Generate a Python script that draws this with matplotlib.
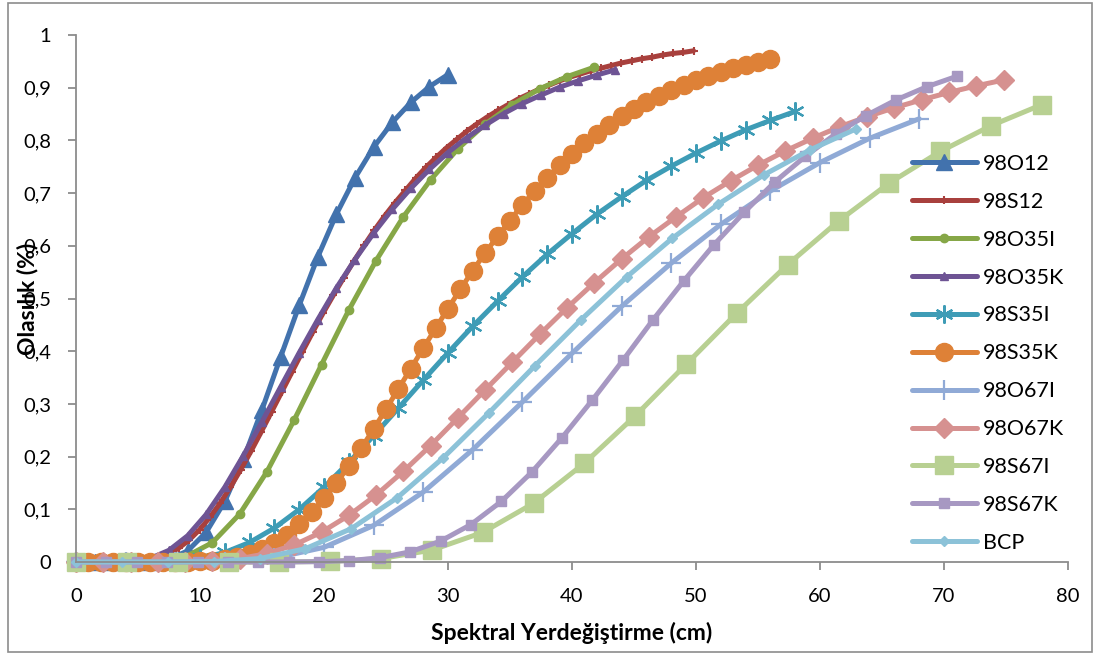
import matplotlib
matplotlib.use("Agg")
import matplotlib.pyplot as plt
from matplotlib.patches import Rectangle

plt.rcParams['font.family'] = ['Lato', 'DejaVu Sans']

# ---- data -------------------------------------------------------------
x_98O12 = [0, 1.5, 3, 4.5, 6, 7.5, 9, 10.5, 12, 13.5, 15, 16.5, 18, 19.5, 21,
           22.5, 24, 25.5, 27, 28.5, 30]
y_98O12 = [0, 0, 0, 0, 0.0007, 0.0053, 0.021, 0.0565, 0.115, 0.195, 0.289,
           0.389, 0.487, 0.579, 0.660, 0.729, 0.787, 0.834, 0.872, 0.902, 0.925]

x_98S12 = [0, 0.83, 1.66, 2.49, 3.32, 4.15, 4.98, 5.81, 6.64, 7.47, 8.30, 9.13,
           9.96, 10.79, 11.62, 12.45, 13.28, 14.11, 14.94, 15.77, 16.60, 17.43,
           18.26, 19.09, 19.92, 20.75, 21.58, 22.41, 23.24, 24.07, 24.90, 25.73,
           26.56, 27.39, 28.22, 29.05, 29.88, 30.71, 31.54, 32.37, 33.20, 34.03,
           34.86, 35.69, 36.52, 37.35, 38.18, 39.01, 39.84, 40.67, 41.50, 42.33,
           43.16, 43.99, 44.82, 45.65, 46.48, 47.31, 48.14, 48.97, 49.80]
y_98S12 = [0, 0, 0, 0, 0.0001, 0.0003, 0.0013, 0.0036, 0.008, 0.0155, 0.0266,
           0.0418, 0.0612, 0.0846, 0.1116, 0.142, 0.175, 0.210, 0.247, 0.285,
           0.323, 0.361, 0.399, 0.436, 0.472, 0.506, 0.539, 0.571, 0.601, 0.630,
           0.657, 0.682, 0.705, 0.728, 0.749, 0.768, 0.786, 0.802, 0.818, 0.832,
           0.845, 0.857, 0.868, 0.879, 0.888, 0.897, 0.905, 0.913, 0.920, 0.926,
           0.932, 0.937, 0.942, 0.947, 0.951, 0.955, 0.958, 0.962, 0.965, 0.967,
           0.970]

x_98O35I = [0, 2.2, 4.4, 6.6, 8.8, 11.0, 13.2, 15.4, 17.6, 19.8, 22.0, 24.2,
            26.4, 28.6, 30.8, 33.0, 35.2, 37.4, 39.6, 41.8]
y_98O35I = [0, 0, 0, 0.0011, 0.0095, 0.0368, 0.091, 0.1715, 0.2697, 0.3745,
            0.478, 0.572, 0.655, 0.7254, 0.784, 0.831, 0.868, 0.898, 0.921, 0.939]

x_98O35K = [0, 1.5, 3, 4.5, 6, 7.5, 9, 10.5, 12, 13.5, 15, 16.5, 18, 19.5, 21,
            22.5, 24, 25.5, 27, 28.5, 30, 31.5, 33, 34.5, 36, 37.5, 39, 40.5,
            42, 43.5]
y_98O35K = [0, 0, 0.0001, 0.0012, 0.0070, 0.0222, 0.0498, 0.0903, 0.142, 0.202,
            0.266, 0.332, 0.397, 0.460, 0.520, 0.574, 0.624, 0.669, 0.709, 0.745,
            0.777, 0.805, 0.829, 0.851, 0.870, 0.886, 0.901, 0.913, 0.924, 0.934]

x_98S35I = [0, 2, 4, 6, 8, 10, 12, 14, 16, 18, 20, 22, 24, 26, 28, 30, 32, 34,
            36, 38, 40, 42, 44, 46, 48, 50, 52, 54, 56, 58]
y_98S35I = [0, 0, 0, 0.0003, 0.0018, 0.0070, 0.0181, 0.0371, 0.0645, 0.0996,
            0.1419, 0.189, 0.2395, 0.292, 0.345, 0.397, 0.4475, 0.495, 0.541,
            0.584, 0.623, 0.660, 0.693, 0.724, 0.751, 0.776, 0.799, 0.820, 0.838,
            0.855]

x_98S35K = list(range(0, 57))
y_98S35K = [0, 0, 0, 0, 0, 0, 0, 0, 0.0001, 0.0003, 0.0010, 0.0023, 0.0048,
            0.0089, 0.0152, 0.0243, 0.0366, 0.0521, 0.0713, 0.0941, 0.1206,
            0.150, 0.182, 0.216, 0.252, 0.290, 0.3285, 0.367, 0.4055, 0.4435,
            0.481, 0.5175, 0.553, 0.5867, 0.618, 0.648, 0.678, 0.704, 0.729,
            0.753, 0.774, 0.7945, 0.813, 0.8297, 0.8455, 0.860, 0.873, 0.885,
            0.8958, 0.906, 0.915, 0.923, 0.9307, 0.937, 0.9436, 0.949, 0.954]

x_98O67I = [0, 4, 8, 12, 16, 20, 24, 28, 32, 36, 40, 44, 48, 52, 56, 60, 64, 68]
y_98O67I = [0, 0, 0, 0.0009, 0.0072, 0.0278, 0.0693, 0.1326, 0.2133, 0.3036,
            0.396, 0.485, 0.567, 0.6406, 0.704, 0.758, 0.804, 0.841]

x_98O67K = [0, 2.2, 4.4, 6.6, 8.8, 11.0, 13.2, 15.4, 17.6, 19.8, 22.0, 24.2,
            26.4, 28.6, 30.8, 33.0, 35.2, 37.4, 39.6, 41.8, 44.0, 46.2, 48.4,
            50.6, 52.8, 55.0, 57.2, 59.4, 61.6, 63.8, 66.0, 68.2, 70.4, 72.6,
            74.8]
y_98O67K = [0, 0, 0, 0, 0.0004, 0.0019, 0.0064, 0.016, 0.0324, 0.0566, 0.0884,
            0.127, 0.172, 0.221, 0.2736, 0.3267, 0.3794, 0.432, 0.4824, 0.530,
            0.575, 0.617, 0.655, 0.6915, 0.7234, 0.753, 0.780, 0.804, 0.826,
            0.845, 0.862, 0.877, 0.891, 0.9035, 0.9145]

x_98S67I = [0, 4.1, 8.2, 12.3, 16.4, 20.5, 24.6, 28.7, 32.8, 36.9, 41.0, 45.1,
            49.2, 53.3, 57.4, 61.5, 65.6, 69.7, 73.8, 77.9]
y_98S67I = [0, 0, 0, 0, 0.0001, 0.0011, 0.0065, 0.0226, 0.0562, 0.1114, 0.1874,
            0.2773, 0.375, 0.4725, 0.5645, 0.647, 0.7194, 0.779, 0.828, 0.868]

x_98S67K = [0, 2.45, 4.9, 7.35, 9.8, 12.25, 14.7, 17.15, 19.6, 22.05, 24.5,
            26.95, 29.4, 31.85, 34.3, 36.75, 39.2, 41.65, 44.1, 46.55, 49.0,
            51.45, 53.9, 56.35, 58.8, 61.25, 63.7, 66.15, 68.6, 71.05]
y_98S67K = [0, 0, 0, 0, 0, 0, 0, 0.0001, 0.0007, 0.0026, 0.0080, 0.0193, 0.0396,
            0.0711, 0.1149, 0.1703, 0.236, 0.3075, 0.3825, 0.460, 0.533, 0.602,
            0.664, 0.721, 0.7695, 0.812, 0.847, 0.877, 0.9017, 0.9218]

x_BCP = [0, 3.7, 7.4, 11.1, 14.8, 18.5, 22.2, 25.9, 29.6, 33.3, 37.0, 40.7,
         44.4, 48.1, 51.8, 55.5, 59.2, 62.9]
y_BCP = [0, 0, 0, 0.0008, 0.0065, 0.0252, 0.0633, 0.1218, 0.1974, 0.283, 0.372,
         0.459, 0.5406, 0.6145, 0.679, 0.735, 0.782, 0.8217]

x_ticks = [0, 10, 20, 30, 40, 50, 60, 70, 80]
y_ticks = [0, 0.1, 0.2, 0.3, 0.4, 0.5, 0.6, 0.7, 0.8, 0.9, 1]
y_tick_labels = ['0', '0,1', '0,2', '0,3', '0,4', '0,5', '0,6', '0,7', '0,8',
                 '0,9', '1']

# ---- series styles ----------------------------------------------------
series = [
    ('98O12', x_98O12, y_98O12, dict(color='#4272AD', marker='^', ms=12)),
    ('98S12', x_98S12, y_98S12, dict(color='#A8403D', marker='+', ms=6, mew=1.5)),
    ('98O35I', x_98O35I, y_98O35I, dict(color='#86A747', marker='o', ms=6)),
    ('98O35K', x_98O35K, y_98O35K, dict(color='#6E5494', marker='^', ms=6)),
    ('98S35I', x_98S35I, y_98S35I, dict(color='#3E9CB6', marker=(6, 2, 0), ms=13, mew=1.6)),
    ('98S35K', x_98S35K, y_98S35K, dict(color='#DE8137', marker='o', ms=13)),
    ('98O67I', x_98O67I, y_98O67I, dict(color='#90AAD6', marker='+', ms=14, mew=1.6)),
    ('98O67K', x_98O67K, y_98O67K, dict(color='#D69190', marker='D', ms=10)),
    ('98S67I', x_98S67I, y_98S67I, dict(color='#B8D092', marker='s', ms=13)),
    ('98S67K', x_98S67K, y_98S67K, dict(color='#A798C2', marker='s', ms=7)),
    ('BCP', x_BCP, y_BCP, dict(color='#8CC2D8', marker='D', ms=5)),
]

fig = plt.figure(figsize=(11.01, 6.55), dpi=100)
ax = fig.add_axes([76 / 1101, 1 - 562 / 655, (1068 - 76) / 1101, (562 - 35) / 655])

for name, xs, ys, st in series:
    ax.plot(xs, ys, label=name, lw=3.6, color=st['color'], marker=st['marker'],
            markersize=st['ms'], markeredgewidth=st.get('mew', 1.0),
            markeredgecolor=st['color'], markerfacecolor=st['color'],
            solid_joinstyle='round', solid_capstyle='round', clip_on=False)

ax.set_xlim(0, 80)
ax.set_ylim(0, 1)
ax.set_xticks(x_ticks)
ax.set_yticks(y_ticks)
ax.set_yticklabels(y_tick_labels)

for side in ('top', 'right'):
    ax.spines[side].set_visible(False)
for side in ('left', 'bottom'):
    ax.spines[side].set_color('#8C8C8C')
    ax.spines[side].set_linewidth(1.3)
ax.tick_params(axis='both', direction='out', length=6, width=1.3,
               color='#8C8C8C', labelsize=14.5, labelcolor='black')
ax.tick_params(axis='x', pad=13)
ax.tick_params(axis='y', pad=12)

ax.set_xlabel('Spektral Yerdeğiştirme (cm)', fontsize=16.5, fontweight='bold',
              labelpad=12)
ax.set_ylabel('Olasılık (%)', fontsize=16.5, fontweight='bold')
ax.yaxis.set_label_coords(-0.038, 0.5)

leg = ax.legend(loc='upper left', bbox_to_anchor=(912 / 1101, 1 - 154 / 655),
                bbox_transform=fig.transFigure, frameon=False, fontsize=15.5,
                handlelength=3.0, labelspacing=0.83, handletextpad=0.3,
                borderpad=0, borderaxespad=0)

# chart area border
fig.patches.append(Rectangle((8 / 1101, 3 / 655), 1084 / 1101, 649 / 655,
                             transform=fig.transFigure, fill=False,
                             edgecolor='#8C8C8C', lw=1.2))

fig.savefig('out.png', dpi=100)
